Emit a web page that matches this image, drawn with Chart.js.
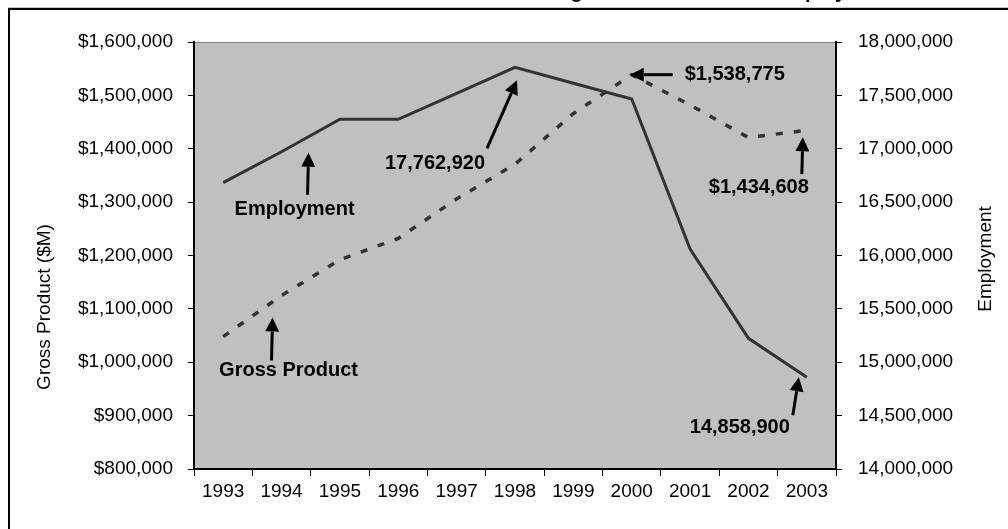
<!DOCTYPE html>
<html>
<head>
<meta charset="utf-8">
<script src="https://cdn.jsdelivr.net/npm/chart.js@4.4.1/dist/chart.umd.min.js"></script>
<style>
html, body { margin: 0; padding: 0; background: #fff; overflow: hidden; }
#wrap { position: relative; width: 1008px; height: 529px; overflow: hidden; }
#chart { position: absolute; left: 0; top: 0; }
#title { position: absolute; left: 445px; top: -19px; font: bold 20px "Liberation Sans", Arial, sans-serif; line-height: 20px; white-space: nowrap; color: #000; }
</style>
</head>
<body>
<div id="wrap">
  <canvas id="chart" width="1008" height="529"></canvas>
  <div id="title">Manufacturing Gross Product and Employment</div>
</div>
<script>
var years = ['1993', '1994', '1995', '1996', '1997', '1998', '1999', '2000', '2001', '2002', '2003'];
// gross product in $M (left axis)
var grossProduct = [1048000, 1125000, 1192000, 1232000, 1306000, 1371000, 1466000, 1538775, 1482000, 1421000, 1434608];
// jobs (right axis)
var employment = [16682000, 16972000, 17276000, 17276000, 17519000, 17762920, 17613000, 17466000, 16061000, 15224000, 14858900];

var FONT = '"Liberation Sans", Arial, sans-serif';
Chart.defaults.font.family = FONT;
Chart.defaults.color = '#000';

function money(v) { return '$' + Number(v).toLocaleString('en-US'); }
function count(v) { return Number(v).toLocaleString('en-US'); }

// callouts: arrow tip / tail and text centre, as offsets from the data point
var notes = [
    { text: 'Employment', ds: 0, i: 1, tip: [27, 1], tail: [26, 43], at: [13, 58] },
    { text: count(employment[5]), ds: 0, i: 5, tip: [2, 13], tail: [-28, 81], at: [-80, 96] },
    { text: money(grossProduct[7]), ds: 1, i: 7, tip: [-2, 0], tail: [41, 0], at: [103, 0] },
    { text: money(grossProduct[10]), ds: 1, i: 10, tip: [-4, 7], tail: [-5, 44], at: [-48, 57] },
    { text: 'Gross Product', ds: 1, i: 1, tip: [-9, 22], tail: [-10, 65], at: [7, 75] },
    { text: count(employment[10]), ds: 0, i: 10, tip: [-8, 0], tail: [-14, 38], at: [-67, 50] }
];

function arrow(ctx, x0, y0, x1, y1) {
    var a = Math.atan2(y1 - y0, x1 - x0);
    var len = 14, half = 7;
    var bx = x1 - Math.cos(a) * len, by = y1 - Math.sin(a) * len;
    ctx.beginPath();
    ctx.moveTo(x0, y0);
    ctx.lineTo(bx, by);
    ctx.lineWidth = 3;
    ctx.strokeStyle = '#000';
    ctx.stroke();
    ctx.beginPath();
    ctx.moveTo(x1, y1);
    ctx.lineTo(bx + Math.sin(a) * half, by - Math.cos(a) * half);
    ctx.lineTo(bx - Math.sin(a) * half, by + Math.cos(a) * half);
    ctx.closePath();
    ctx.fillStyle = '#000';
    ctx.fill();
}

var decor = {
    id: 'decor',
    beforeDraw: function (chart) {
        var ctx = chart.ctx, a = chart.chartArea;
        ctx.save();
        // outer frame
        ctx.fillStyle = '#c8c8c8';
        ctx.fillRect(8, 7, 1000, 1);
        ctx.fillStyle = '#000';
        ctx.fillRect(8, 8, 1000, 2);
        ctx.fillRect(8, 8, 2, 521);
        // plot area
        ctx.fillStyle = '#c0c0c0';
        ctx.fillRect(a.left, a.top, a.right - a.left, a.bottom - a.top);
        ctx.fillStyle = '#808080';
        ctx.fillRect(a.left, a.top, a.right - a.left, 1);
        ctx.restore();
    },
    afterDraw: function (chart) {
        var ctx = chart.ctx;
        ctx.save();
        // axis titles
        ctx.font = '19px ' + FONT;
        ctx.fillStyle = '#000';
        ctx.textAlign = 'center';
        ctx.textBaseline = 'middle';
        ctx.translate(45, 307);
        ctx.rotate(-Math.PI / 2);
        ctx.fillText('Gross Product ($M)', 0, 0);
        ctx.setTransform(1, 0, 0, 1, 0, 0);
        ctx.translate(986, 259);
        ctx.rotate(-Math.PI / 2);
        ctx.fillText('Employment', 0, 0);
        ctx.setTransform(1, 0, 0, 1, 0, 0);

        // callouts
        ctx.font = 'bold 20px ' + FONT;
        notes.forEach(function (n) {
            var p = chart.getDatasetMeta(n.ds).data[n.i];
            arrow(ctx, p.x + n.tail[0], p.y + n.tail[1], p.x + n.tip[0], p.y + n.tip[1]);
            ctx.fillStyle = '#000';
            ctx.fillText(n.text, p.x + n.at[0], p.y + n.at[1]);
        });
        ctx.restore();
    }
};

var tickFont = { size: 19 };

new Chart(document.getElementById('chart').getContext('2d'), {
    type: 'line',
    data: {
        labels: years,
        datasets: [
            {
                label: 'Employment',
                data: employment,
                yAxisID: 'y1',
                borderColor: '#333',
                borderWidth: 3,
                pointRadius: 0,
                tension: 0
            },
            {
                label: 'Gross Product',
                data: grossProduct,
                yAxisID: 'y',
                borderColor: '#333',
                borderWidth: 3.5,
                borderDash: [7, 11],
                pointRadius: 0,
                tension: 0
            }
        ]
    },
    options: {
        responsive: false,
        animation: false,
        layout: { padding: { top: 42, bottom: 0, left: 0, right: 0 } },
        plugins: { legend: { display: false }, tooltip: { enabled: false } },
        scales: {
            x: {
                offset: true,
                grid: { offset: true, drawOnChartArea: false, tickLength: 7, color: '#000' },
                border: { color: '#000', width: 2 },
                ticks: { font: tickFont, padding: 4, maxRotation: 0, autoSkip: false },
                afterFit: function (s) { s.height = 60; }
            },
            y: {
                position: 'left',
                min: 800000,
                max: 1600000,
                ticks: { stepSize: 100000, font: tickFont, padding: 15, callback: money },
                grid: { drawOnChartArea: false, tickLength: 6, color: '#000' },
                border: { color: '#000', width: 2 },
                afterFit: function (s) { s.width = 194; }
            },
            y1: {
                position: 'right',
                min: 14000000,
                max: 18000000,
                ticks: { stepSize: 500000, font: tickFont, padding: 16, callback: count },
                grid: { drawOnChartArea: false, tickLength: 6, color: '#000' },
                border: { color: '#000', width: 2 },
                afterFit: function (s) { s.width = 172; }
            }
        }
    },
    plugins: [decor]
});
</script>
</body>
</html>
